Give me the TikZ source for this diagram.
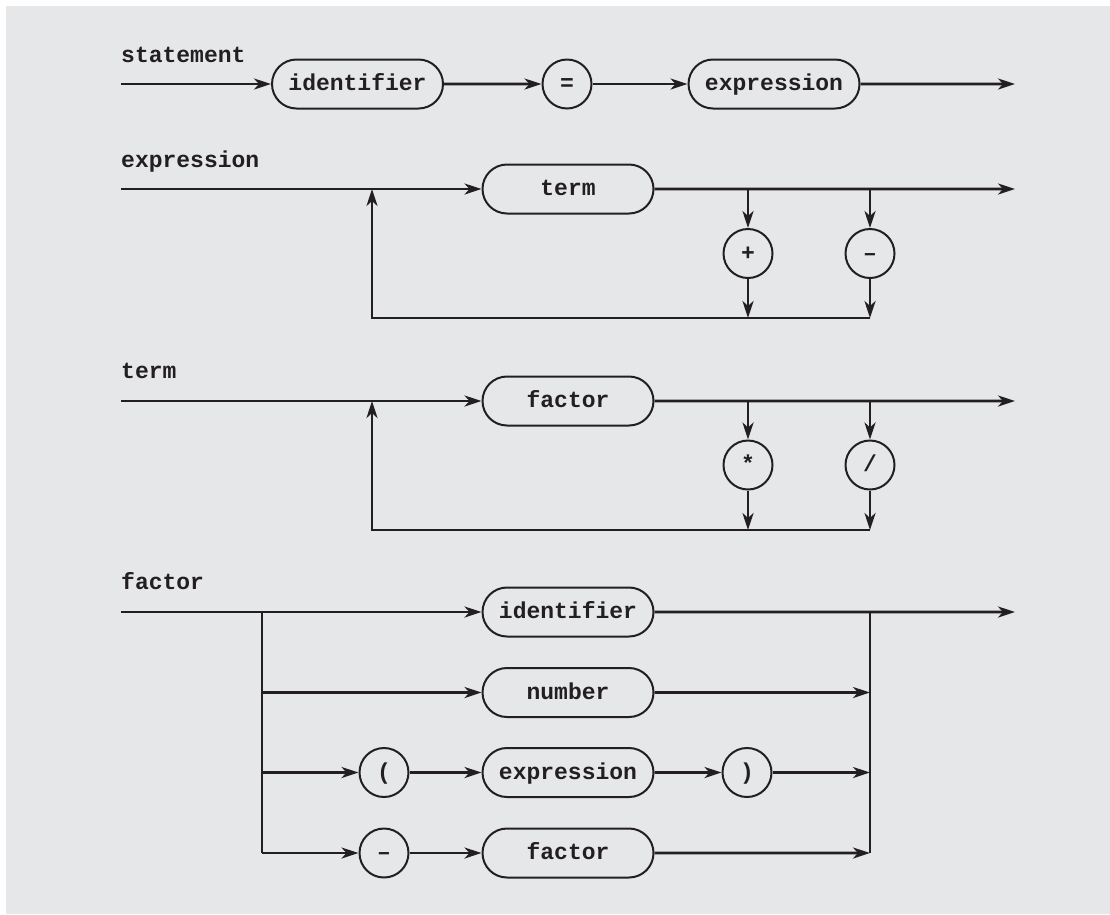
\documentclass[tikz,border=0pt]{standalone}
\usepackage{fontspec}
\setmainfont{Liberation Mono}
\usetikzlibrary{arrows.meta,shapes.misc}
\definecolor{bg}{HTML}{E6E7E9}
\definecolor{ink}{HTML}{231F20}
\tikzset{
  lbl/.style={anchor=base west,inner sep=0pt,text=ink,font=\fontsize{23}{28}\selectfont\bfseries},
  pill/.style={rounded rectangle,draw=ink,line width=2pt,fill=bg,minimum width=171pt,minimum height=49pt,inner sep=0pt,text height=16.5pt,text depth=3.5pt,text=ink,font=\fontsize{23}{28}\selectfont\bfseries},
  term/.style={circle,draw=ink,line width=2pt,fill=bg,minimum size=49pt,inner sep=0pt,text height=16.5pt,text depth=3.5pt,text=ink,font=\fontsize{23}{28}\selectfont\bfseries},
  wire/.style={draw=ink,line width=2.6pt},
  arr/.style={wire,-{Stealth[length=17pt,width=11pt,inset=5pt]}},
}
\begin{document}
\begin{tikzpicture}[x=1pt,y=-1pt]
\useasboundingbox (0,0) rectangle (1110,914);
\fill[white] (0,0) rectangle (1110,914);
\fill[bg] (6,6) rectangle (1110,914);

% ---- statement
\node[lbl] (Lst) at (121,62) {statement};
\coordinate (s0) at (121,84);
\coordinate (s1) at (1015,84);
\node[pill] (sid) at (357.5,84) {identifier};
\node[term] (eq) at (567,84) {=};
\node[pill] (sexp) at (774,84) {expression};
\draw[arr] (s0) -- (sid);
\draw[arr] (sid) -- (eq);
\draw[arr] (eq) -- (sexp);
\draw[arr] (sexp) -- (s1);

% ---- expression
\node[lbl] (Lex) at (121,167) {expression};
\coordinate (e0) at (121,189);
\coordinate (e1) at (1015,189);
\coordinate (eL) at (372,189);
\coordinate (eLb) at (372,318);
\coordinate (ea) at (748,189);
\coordinate (eab) at (748,318);
\coordinate (eb) at (870,189);
\coordinate (ebb) at (870,318);
\node[pill] (eterm) at (568,189) {term};
\node[term] (plus) at (748,253.5) {+};
\node[term] (minus) at (870,253.5) {–};
\draw[arr] (e0) -- (eterm);
\draw[arr] (eterm) -- (e1);
\draw[arr] (ea) -- (plus);
\draw[arr] (plus) -- (eab);
\draw[arr] (eb) -- (minus);
\draw[arr] (minus) -- (ebb);
\draw[arr] (ebb) -- (eLb) -- (eL);

% ---- term
\node[lbl] (Lte) at (121,378) {term};
\coordinate (t0) at (121,401);
\coordinate (t1) at (1015,401);
\coordinate (tL) at (372,401);
\coordinate (tLb) at (372,530);
\coordinate (ta) at (748,401);
\coordinate (tab) at (748,530);
\coordinate (tb) at (870,401);
\coordinate (tbb) at (870,530);
\node[pill] (tfac) at (568,401) {factor};
\node[term] (mul) at (748,465) {*};
\node[term] (dvd) at (870,465) {/};
\draw[arr] (t0) -- (tfac);
\draw[arr] (tfac) -- (t1);
\draw[arr] (ta) -- (mul);
\draw[arr] (mul) -- (tab);
\draw[arr] (tb) -- (dvd);
\draw[arr] (dvd) -- (tbb);
\draw[arr] (tbb) -- (tLb) -- (tL);

% ---- factor
\node[lbl] (Lfa) at (121,589) {factor};
\coordinate (f0) at (121,612);
\coordinate (f1) at (1015,612);
\coordinate (fLt) at (262,612);
\coordinate (fL2) at (262,692.5);
\coordinate (fL3) at (262,772.5);
\coordinate (fL4) at (262,853);
\coordinate (fRt) at (870,612);
\coordinate (fR2) at (870,692.5);
\coordinate (fR3) at (870,772.5);
\coordinate (fR4) at (870,853);
\node[pill] (fid) at (568,612) {identifier};
\node[pill] (fnum) at (568,692.5) {number};
\node[term] (lp) at (384,772.5) {(};
\node[pill] (fexp) at (568,772.5) {expression};
\node[term] (rp) at (747,772.5) {)};
\node[term] (neg) at (384,853) {–};
\node[pill] (ffac) at (568,853) {factor};
\draw[wire] (fLt) -- (fL4);
\draw[wire] (fRt) -- (fR4);
\draw[arr] (f0) -- (fid);
\draw[arr] (fid) -- (f1);
\draw[arr] (fL2) -- (fnum);
\draw[arr] (fnum) -- (fR2);
\draw[arr] (fL3) -- (lp);
\draw[arr] (lp) -- (fexp);
\draw[arr] (fexp) -- (rp);
\draw[arr] (rp) -- (fR3);
\draw[arr] (fL4) -- (neg);
\draw[arr] (neg) -- (ffac);
\draw[arr] (ffac) -- (fR4);
\end{tikzpicture}
\end{document}
